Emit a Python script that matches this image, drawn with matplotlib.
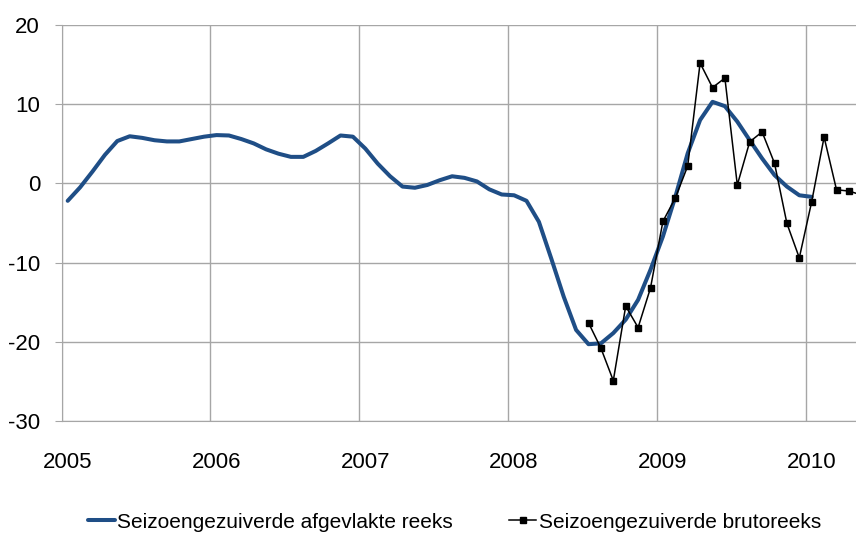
import numpy as np
import matplotlib
matplotlib.use('Agg')
import matplotlib.pyplot as plt
from matplotlib import font_manager
from matplotlib.ticker import FixedLocator, NullFormatter

# use a narrow face when there is one, else plain Liberation Sans
names = {f.name for f in font_manager.fontManager.ttflist}
narrow = [n for n in ['Liberation Sans Narrow', 'Arial Narrow'] if n in names]
plt.rcParams['font.family'] = narrow + ['Liberation Sans', 'DejaVu Sans']
plt.rcParams['axes.unicode_minus'] = False
fs = 16 if narrow else 15.5

# smoothed series, monthly from Jan 2005 to Jan 2010
smooth_vals = [-2.2, -0.5, 1.5, 3.6, 5.35, 5.95, 5.75, 5.45, 5.3, 5.3, 5.6, 5.9,
               6.1, 6.05, 5.6, 5.05, 4.3, 3.75, 3.35, 3.35, 4.1, 5.05, 6.05, 5.9,
               4.4, 2.5, 0.9, -0.4, -0.55, -0.2, 0.4, 0.9, 0.7, 0.25, -0.75, -1.4,
               -1.5, -2.2, -4.85, -9.5, -14.3, -18.5, -20.3, -20.2, -18.9, -17.2, -14.7, -10.9,
               -6.7, -1.7, 3.8, 8.0, 10.3, 9.75, 7.8, 5.45, 3.15, 1.05, -0.4, -1.5,
               -1.7]
smooth_start = 0  # months after Jan 2005

# raw series, monthly from Jul 2008 to May 2010
raw_vals = [-17.6, -20.8, -24.9, -15.5, -18.2, -13.2,
            -4.8, -1.85, 2.2, 15.2, 12.1, 13.3, -0.2, 5.25, 6.5, 2.55, -5.05, -9.4,
            -2.3, 5.85, -0.8, -0.97, -1.45]
raw_start = 42

years = [2005, 2006, 2007, 2008, 2009, 2010]
yticks = [-30, -20, -10, 0, 10, 20]
labels = ['Seizoengezuiverde afgevlakte reeks', 'Seizoengezuiverde brutoreeks']


def month_x(start, n):
    # points sit in the middle of each month
    return 2005 + (start + np.arange(n) + 0.5) / 12.0


fig = plt.figure(figsize=(8.56, 5.38), dpi=100)
ax = fig.add_axes([61.5 / 856, 1 - 421 / 538, 1 - 61.5 / 856, (421 - 25) / 538])

grid_c = '#A6A6A6'
ax.plot(month_x(smooth_start, len(smooth_vals)), smooth_vals, color='#1F4E86',
        lw=2.9, solid_capstyle='round', solid_joinstyle='round', label=labels[0], zorder=3)
ax.plot(month_x(raw_start, len(raw_vals)), raw_vals, color='black', lw=1.1,
        marker='s', markersize=5, label=labels[1], zorder=4)

ax.set_xlim(2005, 2005 + (856 - 61.5) / 148.8)
ax.set_ylim(-30, 20)

ax.xaxis.set_major_locator(FixedLocator(years))
ax.xaxis.set_major_formatter(NullFormatter())
ax.xaxis.set_minor_locator(FixedLocator([y + 0.5 / 12 for y in years]))
ax.set_xticklabels([str(y) for y in years], minor=True)
ax.tick_params(axis='x', which='both', length=0, labelsize=fs + 0.5, pad=22)
ax.set_yticks(yticks)
ax.tick_params(axis='y', length=7.5 * 72 / 100, color=grid_c, labelsize=fs + 0.5, pad=10)

ax.grid(True, which='major', color=grid_c, lw=1)
for s in ['top', 'right']:
    ax.spines[s].set_visible(False)
ax.spines['left'].set_color(grid_c)
ax.spines['bottom'].set_color(grid_c)

fig.legend(loc='center', bbox_to_anchor=(0.531, 1 - 522 / 538), ncol=2, frameon=False,
           fontsize=fs - 0.5, handlelength=1.3, handletextpad=0.1, columnspacing=2.7)

fig.savefig('out.png', dpi=100)
